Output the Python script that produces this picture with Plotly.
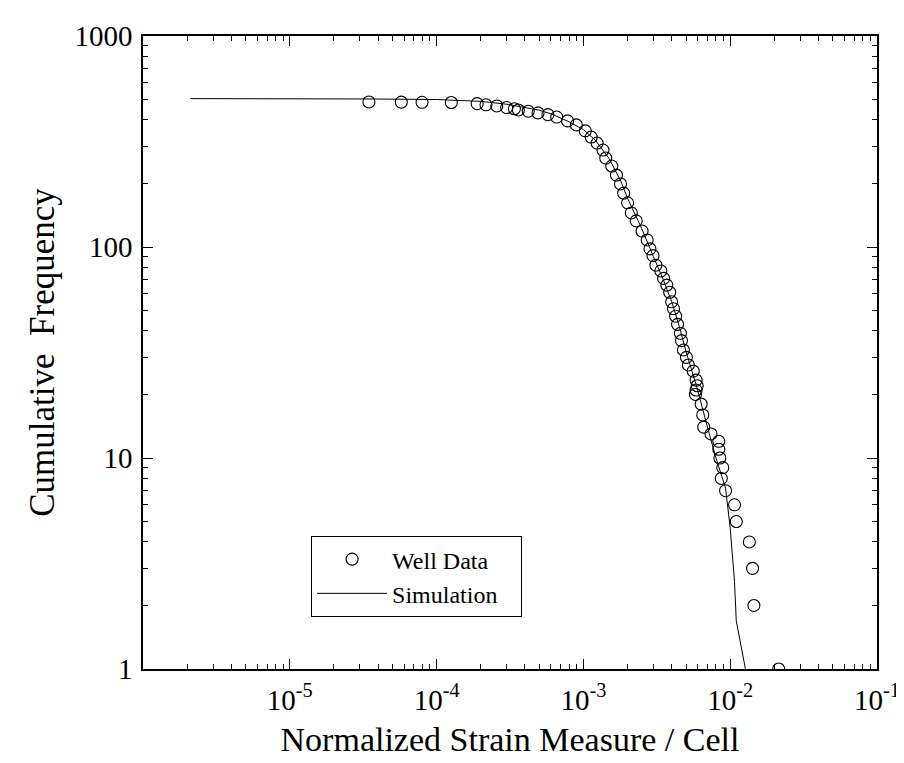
import plotly.graph_objects as go

# Well data (normalized strain, cumulative frequency)
well_x = [3.46e-5, 5.75e-5, 7.96e-5, 1.26e-4, 1.89e-4, 2.17e-4, 2.57e-4, 3.0e-4, 3.39e-4,
          3.61e-4, 4.21e-4, 4.91e-4, 5.73e-4, 6.58e-4, 7.80e-4, 8.95e-4, 1.03e-3, 1.13e-3,
          1.24e-3, 1.36e-3, 1.42e-3, 1.56e-3, 1.68e-3, 1.79e-3, 1.88e-3, 2.0e-3, 2.12e-3,
          2.29e-3, 2.51e-3, 2.72e-3, 2.84e-3, 2.98e-3, 3.12e-3, 3.37e-3, 3.52e-3, 3.70e-3,
          3.87e-3, 3.99e-3, 4.11e-3, 4.25e-3, 4.38e-3, 4.58e-3, 4.66e-3, 4.80e-3, 5.03e-3,
          5.19e-3, 5.60e-3, 5.86e-3, 5.96e-3, 5.86e-3, 5.80e-3, 6.34e-3, 6.50e-3, 6.60e-3,
          7.40e-3, 8.36e-3, 8.36e-3, 8.50e-3, 8.90e-3, 8.70e-3, 9.30e-3, 1.07e-2, 1.10e-2,
          1.35e-2, 1.42e-2, 1.45e-2, 2.14e-2]
well_y = [487, 486, 485, 484, 478, 472, 466, 458, 452,
          446, 440, 432, 424, 413, 396, 379, 355, 332,
          311, 288, 264, 242, 219, 199, 180, 162, 145,
          133, 119, 108, 98, 91, 82, 77, 71, 66,
          61, 55, 51, 47, 43, 39, 36, 32.5, 30,
          27.6, 25.8, 23.4, 22, 21, 20, 18, 16, 14,
          13, 12, 11, 10, 9, 8, 7, 6, 5,
          4, 3, 2, 1]

# Simulation curve
sim_x = [2.1e-6, 1e-5, 3.5e-5, 1e-4, 2e-4, 3e-4, 4e-4, 5e-4, 6e-4, 7e-4, 8e-4, 1e-3,
         1.2e-3, 1.5e-3, 1.8e-3, 2.0e-3, 2.5e-3, 3.0e-3, 3.5e-3, 4.0e-3, 4.5e-3, 5.0e-3,
         5.5e-3, 6.0e-3, 7.0e-3, 8.0e-3, 9.3e-3, 1.0e-2, 1.07e-2, 1.1e-2, 1.27e-2]
sim_y = [505, 505, 503, 500, 490, 475, 460, 445, 428, 410, 392, 360,
         322, 262, 205, 170, 122, 90, 70, 55, 42, 32,
         26, 21, 14, 10, 7.2, 4.65, 2.6, 1.69, 1.0]

x_tick_vals = [1e-5, 1e-4, 1e-3, 1e-2, 1e-1]
x_tick_text = ["10<sup>-5</sup>", "10<sup>-4</sup>", "10<sup>-3</sup>", "10<sup>-2</sup>", "10<sup>-1</sup>"]
y_tick_vals = [1, 10, 100, 1000]
y_tick_text = ["1", "10", "100", "1000"]

FONT = "Liberation Serif"
PAD = "\u00a0\u00a0\u00a0"

x_minor = [m * 10.0 ** e for e in range(-6, -1) for m in range(2, 10)]
y_minor = [m * 10.0 ** e for e in range(0, 3) for m in range(2, 10)]

fig = go.Figure()
fig.add_trace(go.Scatter(
    x=well_x, y=well_y, mode="markers", name="Well Data" + PAD,
    marker=dict(symbol="circle-open", size=12, color="black", line=dict(width=1.1, color="black")),
))
fig.add_trace(go.Scatter(
    x=sim_x, y=sim_y, mode="lines", name="Simulation" + PAD,
    line=dict(color="black", width=1),
))

axis_common = dict(
    showline=True, linecolor="black", linewidth=1.5, mirror="allticks",
    ticks="inside", ticklen=10, tickwidth=1, tickcolor="black",
    showgrid=False, zeroline=False,
    tickfont=dict(family=FONT, size=29, color="black"),
    ticklabeloverflow="allow",
)

fig.update_xaxes(
    type="log", range=[-6, -1], tickmode="array", tickvals=x_tick_vals, ticktext=x_tick_text,
    title=dict(text="Normalized Strain Measure / Cell", font=dict(family=FONT, size=34, color="black"), standoff=13),
    minor=dict(ticks="inside", ticklen=5, tickwidth=1, tickcolor="black", tickmode="array", tickvals=x_minor, showgrid=False),
    ticklabelstandoff=4,
    **axis_common,
)
fig.update_yaxes(
    type="log", range=[0, 3], tickmode="array", tickvals=y_tick_vals, ticktext=y_tick_text,
    title=dict(text="Cumulative  Frequency", font=dict(family=FONT, size=35, color="black"), standoff=9),
    minor=dict(ticks="inside", ticklen=5, tickwidth=1, tickcolor="black", tickmode="array", tickvals=y_minor, showgrid=False),
    ticklabelstandoff=3,
    **axis_common,
)

fig.update_layout(
    width=904, height=763,
    margin=dict(l=135, r=22, t=28, b=102),
    plot_bgcolor="white", paper_bgcolor="white",
    font=dict(family=FONT, color="black"),
    legend=dict(
        x=0.229, y=0.21, xanchor="left", yanchor="top",
        bordercolor="black", borderwidth=1, bgcolor="white",
        font=dict(family=FONT, size=24, color="black"),
        tracegroupgap=0, itemwidth=70,
    ),
)

fig.write_html("out.html")
